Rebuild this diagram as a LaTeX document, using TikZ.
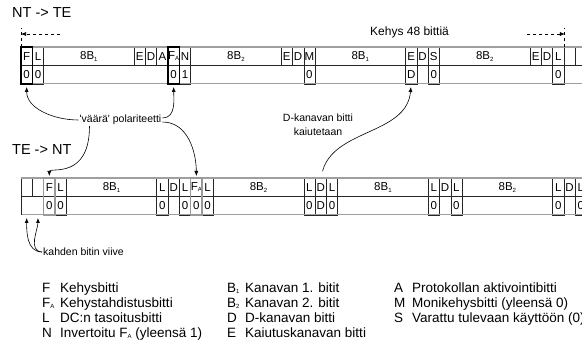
\documentclass[tikz,border=0pt]{standalone}
\usepackage{fontspec}
\setmainfont{Liberation Sans}
\usetikzlibrary{arrows.meta}

\newcommand{\bw}{11.31}
\newcommand{\lowidx}[1]{\raisebox{-1.5pt}{\fontsize{6}{6}\selectfont #1}}
\colorlet{bitline}{black!85}

\tikzset{
  bitcell/.style={draw=bitline, line width=0.5pt, anchor=north west, inner sep=0pt, outer sep=0pt,
    minimum height=18.5pt, font=\fontsize{11.5}{13}\selectfont},
  rowtop/.style={draw=gray!75, line width=1.6pt},
  rowmid/.style={draw=bitline, line width=1.2pt},
  rowbot/.style={draw=gray!75, line width=1pt},
  markbox/.style={draw=black, line width=1.2pt},
  markboxgray/.style={draw=gray!80, line width=1.6pt},
  framemark/.style={line width=0.6pt, dash pattern=on 3pt off 3pt},
  pointer/.style={-{Latex[length=5pt,width=4pt]}, line width=0.6pt, shorten >=3pt},
  note/.style={inner sep=1pt, font=\fontsize{10.5}{13.5}\selectfont},
  title/.style={anchor=west, inner sep=0pt, font=\fontsize{14.5}{16}\selectfont},
  legkey/.style={anchor=base west, inner sep=0pt, font=\fontsize{13.5}{15}\selectfont},
}

\begin{document}
\begin{tikzpicture}[x=1pt,y=-1pt]
\useasboundingbox (0,0) rectangle (582,347);
\clip (0,0) rectangle (582,347);

\node[title] (ntte) at (12,13) {NT -> TE};
\node[title] (tent) at (12,150) {TE -> NT};

% NT -> TE frame
\foreach \pos/\len/\lab/\val/\edge in {0/1/F/0/bitline, 1/1/L/0/bitline, 2/8/{8B\lowidx{1}}/{}/none,
    10/1/E/{}/none, 11/1/D/{}/none, 12/1/A/{}/none, 13/1/{F\lowidx{A}}/0/bitline, 14/1/N/1/bitline,
    15/8/{8B\lowidx{2}}/{}/none, 23/1/E/{}/none, 24/1/D/{}/none, 25/1/M/0/bitline,
    26/8/{8B\lowidx{1}}/{}/none, 34/1/E/D/bitline, 35/1/D/{}/none, 36/1/S/0/bitline,
    37/8/{8B\lowidx{2}}/{}/none, 45/1/E/{}/none, 46/1/D/{}/none, 47/1/L/0/bitline,
    48/1/{}/{}/none, 49/1/{}/{}/none}{
  \node[bitcell, minimum width=\len*\bw*1pt] (t\pos) at ({21+\pos*\bw},47) {\lab};
  \node[bitcell, draw=\edge, minimum width=\len*\bw*1pt] (tv\pos) at ({21+\pos*\bw},65.5) {\val};
}
\draw[rowtop] (t0.north west) -- (t49.north east);
\draw[rowmid] (t0.south west) -- (t49.south east);
\draw[rowbot] (tv0.south west) -- (tv49.south east);
\draw[markbox] (t0.north west) rectangle (tv0.south east);
\draw[markbox] (t13.north west) rectangle (tv13.south east);

% TE -> NT frame, two bits later
\foreach \pos/\len/\lab/\val/\edge in {0/1/{}/{}/none, 1/1/{}/{}/none, 2/1/F/0/bitline, 3/1/L/0/bitline,
    4/8/{8B\lowidx{1}}/{}/none, 12/1/L/0/bitline, 13/1/D/{}/none, 14/1/L/0/bitline,
    15/1/{F\lowidx{A}}/0/bitline, 16/1/L/0/bitline, 17/8/{8B\lowidx{2}}/{}/none,
    25/1/L/0/bitline, 26/1/D/D/bitline, 27/1/L/0/bitline, 28/8/{8B\lowidx{1}}/{}/none,
    36/1/L/0/bitline, 37/1/D/{}/none, 38/1/L/0/bitline, 39/8/{8B\lowidx{2}}/{}/none,
    47/1/L/0/bitline, 48/1/D/{}/none, 49/1/L/0/bitline}{
  \node[bitcell, minimum width=\len*\bw*1pt] (b\pos) at ({21+\pos*\bw},178) {\lab};
  \node[bitcell, draw=\edge, minimum width=\len*\bw*1pt] (bv\pos) at ({21+\pos*\bw},196.5) {\val};
}
\draw[rowtop] (b0.north west) -- (b49.north east);
\draw[rowmid] (b0.south west) -- (b49.south east);
\draw[rowbot] (bv0.south west) -- (bv49.south east);
\draw[bitline, line width=0.5pt] (bv0.north west) -- (bv0.south west);
\draw[markboxgray] (b2.north west) rectangle (bv2.south east);
\draw[markboxgray] (b15.north west) rectangle (bv15.south east);

% frame length
\coordinate (fl) at (21,34);
\coordinate (fla) at (60,34);
\coordinate (fr) at (564.9,34);
\coordinate (fra) at (527,34);
\draw[framemark] (t0.north west) -- ++(0,-19);
\draw[framemark] (t47.north east) -- ++(0,-19);
\draw[framemark, -{Latex[length=5pt,width=4pt]}] (fla) -- (fl);
\draw[framemark, -{Latex[length=5pt,width=4pt]}] (fra) -- (fr);
\node[anchor=west, inner sep=0pt, font=\fontsize{12}{14}\selectfont] (kehys) at (370,32) {Kehys 48 bittiä};

% notes
\node[note] (vaara) at (120.5,120) {\textquotesingle väärä\textquotesingle{} polariteetti};
\node[note, align=center] (dkan) at (318,125) {D-kanavan bitti\\kaiutetaan};
\node[note, anchor=west] (viive) at (42,252) {kahden bitin viive};

\draw[pointer] (vaara.west) to[out=180,in=-90] (tv0.south);
\draw[pointer] ([yshift=2pt]vaara.east) to[out=0,in=-90] (tv13.south);
\draw[pointer, shorten >=2pt] ([xshift=-31pt]vaara.south) .. controls +(0,54) and +(0,-11) .. (b2.north);
\draw[pointer, shorten >=2pt] ([yshift=-2pt]vaara.east) to[out=0,in=90] (b15.north);
\draw[pointer, shorten <=7pt] (b26.north) to[out=75,in=-95] (tv34.south);
\draw[pointer] (viive.west) to[out=180,in=-90] (bv0.south);
\draw[pointer] (viive.west) to[out=175,in=-90] (bv1.south);

% legend
\foreach \kx/\tx/\ky/\sym/\desc [count=\i] in {42/60/292.5/F/Kehysbitti,
    42/60/307.5/F\lowidx{A}/Kehystahdistusbitti, 42/60/322.5/L/DC:n tasoitusbitti,
    42/60/337.5/N/Invertoitu F\lowidx{A} (yleensä 1),
    227/245/292.5/B\lowidx{1}/Kanavan 1. bitit, 227/245/307.5/B\lowidx{2}/Kanavan 2. bitit,
    227/245/322.5/D/D-kanavan bitti, 227/245/337.5/E/Kaiutuskanavan bitti,
    394/412/292.5/A/Protokollan aktivointibitti, 394/412/307.5/M/Monikehysbitti (yleensä 0),
    394/412/322.5/S/Varattu tulevaan käyttöön (0)}{
  \node[legkey] (key\i) at (\kx,\ky) {\sym};
  \node[legkey] (txt\i) at (\tx,\ky) {\desc};
}
\end{tikzpicture}
\end{document}
